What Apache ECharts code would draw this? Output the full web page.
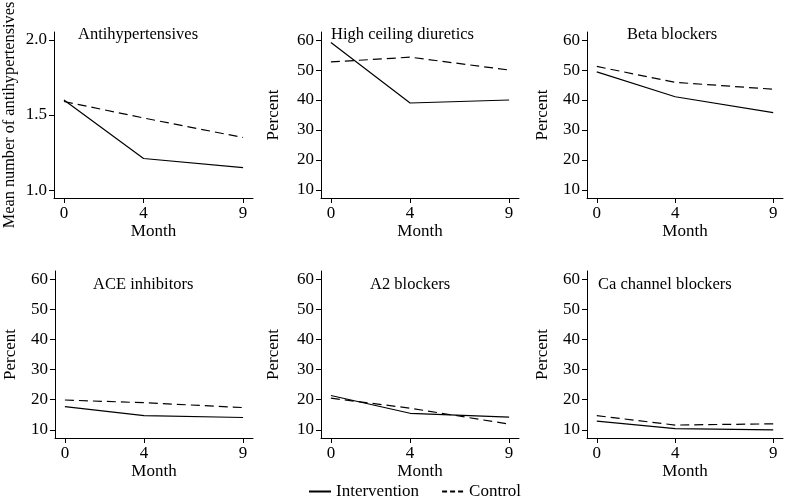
<!DOCTYPE html>
<html>
<head>
<meta charset="utf-8">
<script src="https://cdn.jsdelivr.net/npm/echarts@6/dist/echarts.min.js"></script>
<style>html,body{margin:0;padding:0;background:#fff}#c{width:788px;height:500px}</style>
</head>
<body>
<div id="c"></div>
<script>
const months = [0, 4, 9];
const xTicks = [0, 4, 9];
const panelTitles = ['Antihypertensives', 'High ceiling diuretics', 'Beta blockers', 'ACE inhibitors', 'A2 blockers', 'Ca channel blockers'];
const yNames = ['Mean number of antihypertensives', 'Percent', 'Percent', 'Percent', 'Percent', 'Percent'];
const meanTicks = [1.0, 1.5, 2.0];
const percentTicks = [10, 20, 30, 40, 50, 60];

const interventionAntihyp = [1.60, 1.21, 1.15];
const controlAntihyp = [1.59, 1.48, 1.35];
const interventionDiuretics = [59.2, 39.0, 40.0];
const controlDiuretics = [52.7, 54.3, 50.0];
const interventionBeta = [49.4, 41.1, 35.8];
const controlBeta = [51.2, 45.9, 43.6];
const interventionACE = [17.7, 14.7, 14.1];
const controlACE = [19.9, 19.0, 17.4];
const interventionA2 = [21.4, 15.5, 14.2];
const controlA2 = [20.5, 17.2, 11.9];
const interventionCa = [12.9, 10.4, 10.0];
const controlCa = [14.7, 11.6, 12.0];

const interventionAll = [interventionAntihyp, interventionDiuretics, interventionBeta, interventionACE, interventionA2, interventionCa];
const controlAll = [controlAntihyp, controlDiuretics, controlBeta, controlACE, controlA2, controlCa];

const FONT = 'Liberation Serif';
const gridPos = [
  {left: 54, top: 32, width: 199, height: 166},
  {left: 321, top: 32, width: 198, height: 166},
  {left: 587, top: 32, width: 196, height: 166},
  {left: 55, top: 271, width: 198, height: 167},
  {left: 321, top: 271, width: 198, height: 167},
  {left: 587, top: 271, width: 196, height: 167}
];
const titlePos = [
  {left: 78, top: 26}, {left: 331, top: 26}, {left: 627, top: 26},
  {left: 93, top: 276}, {left: 370, top: 276}, {left: 598, top: 276}
];
const nameGaps = [36, 39, 36, 36, 39, 36];

const grids = [], xAxes = [], yAxes = [], series = [], titles = [];
for (let i = 0; i < 6; i++) {
  grids.push(Object.assign({containLabel: false, outerBoundsMode: 'none'}, gridPos[i]));
  titles.push({text: panelTitles[i], left: titlePos[i].left, top: titlePos[i].top, padding: 0,
    textStyle: {fontFamily: FONT, fontSize: 16.5, fontWeight: 'normal', color: '#000'}});
  xAxes.push({
    type: 'value', gridIndex: i, min: -0.5, max: 9.5,
    name: 'Month', nameLocation: 'middle', nameGap: 23,
    nameTextStyle: {fontFamily: FONT, fontSize: 17, color: '#000', verticalAlign: 'top'},
    axisLine: {show: true, onZero: false, lineStyle: {color: '#000', width: 1}},
    axisTick: {show: true, length: 5, customValues: xTicks, lineStyle: {color: '#000'}},
    axisLabel: {customValues: xTicks, fontFamily: FONT, fontSize: 17, color: '#000', margin: 7},
    splitLine: {show: false}
  });
  const isMean = i === 0;
  const ticks = isMean ? meanTicks : percentTicks;
  yAxes.push({
    type: 'value', gridIndex: i,
    min: isMean ? 0.947 : 7.3, max: isMean ? 2.053 : 62.7,
    name: yNames[i], nameLocation: 'middle', nameGap: nameGaps[i], nameRotate: 90,
    nameTextStyle: {fontFamily: FONT, fontSize: isMean ? 16.3 : 17, color: '#000'},
    axisLine: {show: true, onZero: false, lineStyle: {color: '#000', width: 1}},
    axisTick: {show: true, length: 5, customValues: ticks, lineStyle: {color: '#000'}},
    axisLabel: {customValues: ticks, fontFamily: FONT, fontSize: 17, color: '#000', margin: 7,
      formatter: v => isMean ? Number(v).toFixed(1) : String(Math.round(v))},
    splitLine: {show: false}
  });
  series.push({
    name: 'Intervention', type: 'line', xAxisIndex: i, yAxisIndex: i,
    data: months.map((m, k) => [m, interventionAll[i][k]]),
    symbol: 'none', lineStyle: {color: '#000', width: 1.2, type: 'solid'}, itemStyle: {color: '#000'},
    animation: false
  });
  series.push({
    name: 'Control', type: 'line', xAxisIndex: i, yAxisIndex: i,
    data: months.map((m, k) => [m, controlAll[i][k]]),
    symbol: 'none', lineStyle: {color: '#000', width: 1.2, type: [9, 5]}, itemStyle: {color: '#000'},
    animation: false
  });
}

const chart = echarts.init(document.getElementById('c'), null, {renderer: 'canvas'});
chart.setOption({
  backgroundColor: '#fff',
  animation: false,
  title: titles,
  grid: grids,
  xAxis: xAxes,
  yAxis: yAxes,
  legend: {
    data: [
      {name: 'Intervention'},
      {name: 'Control', lineStyle: {type: [5, 3]}}
    ],
    left: 308, top: 483, padding: 0, itemWidth: 22, itemHeight: 10, itemGap: 22,
    itemStyle: {opacity: 0},
    textStyle: {fontFamily: FONT, fontSize: 17, color: '#000', padding: 0}
  },
  series: series
});
</script>
</body>
</html>
